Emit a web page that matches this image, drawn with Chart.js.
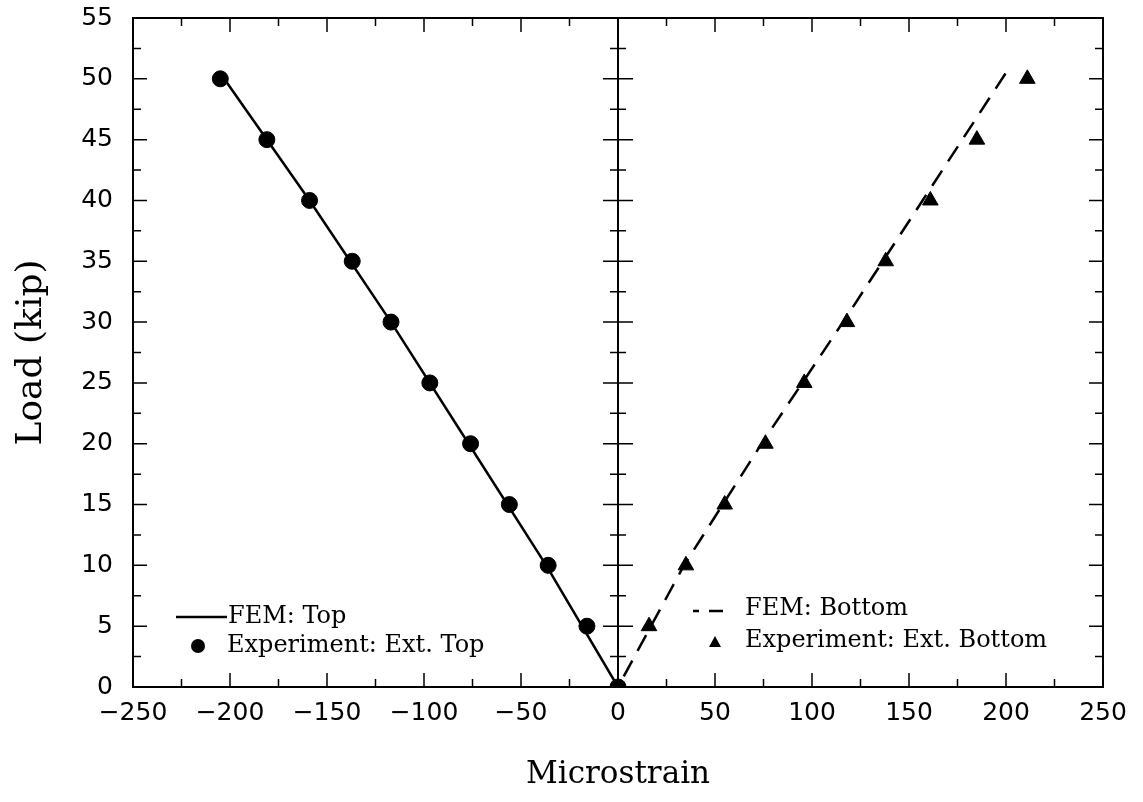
<!DOCTYPE html>
<html>
<head>
<meta charset="utf-8">
<script src="https://cdn.jsdelivr.net/npm/chart.js@4"></script>
<style>
  html, body { margin: 0; padding: 0; background: #fff; }
  #wrap { width: 1143px; height: 802px; }
</style>
</head>
<body>
<div id="wrap"><canvas id="chart" width="1143" height="802"></canvas></div>
<script>
// Données
const loadLevels = [0, 5, 10, 15, 20, 25, 30, 35, 40, 45, 50];
const expTopStrain = [0, -16, -36, -56, -76, -97, -117, -137, -159, -181, -205];
const expBottomStrain = [0, 16, 35, 55, 76, 96, 118, 138, 161, 185, 211];

const femTopStrain = [0, -37, -77, -117, -159, -203];
const femTopLoad = [0, 10, 20, 30, 40, 50];
const femBottomStrain = [0, 34, 74, 116, 157, 200];
const femBottomLoad = [0, 10, 20, 30, 40, 50.5];

const xTicks = [-250, -200, -150, -100, -50, 0, 50, 100, 150, 200, 250];
const yTicks = [0, 5, 10, 15, 20, 25, 30, 35, 40, 45, 50, 55];

const serif = "'DejaVu Serif', 'Liberation Serif', serif";
const sans = "'DejaVu Sans', 'Liberation Sans', sans-serif";

function pairs(xs, ys) {
    return xs.map((x, i) => ({ x: x, y: ys[i] }));
}

/**
 * Cadre, graduations intérieures, axe du zéro et légendes
 */
const framePlugin = {
    id: 'frame',
    afterDatasetsDraw(chart) {
        const ctx = chart.ctx;
        const a = chart.chartArea;
        const xs = chart.scales.x;
        const ys = chart.scales.y;
        ctx.save();
        ctx.strokeStyle = '#000';
        ctx.lineWidth = 2;
        ctx.setLineDash([]);
        ctx.strokeRect(a.left, a.top, a.right - a.left, a.bottom - a.top);

        ctx.lineWidth = 1.5;
        // graduations x
        for (let v = -250; v <= 250; v += 25) {
            const px = xs.getPixelForValue(v);
            const len = v % 50 === 0 ? 14 : 8;
            ctx.beginPath();
            ctx.moveTo(px, a.bottom); ctx.lineTo(px, a.bottom - len);
            ctx.moveTo(px, a.top); ctx.lineTo(px, a.top + len);
            ctx.stroke();
        }
        // graduations y
        const x0 = xs.getPixelForValue(0);
        for (let v = 0; v <= 55; v += 2.5) {
            const py = ys.getPixelForValue(v);
            const major = v % 5 === 0;
            const len = major ? 14 : 8;
            ctx.beginPath();
            ctx.moveTo(a.left, py); ctx.lineTo(a.left + len, py);
            ctx.moveTo(a.right, py); ctx.lineTo(a.right - len, py);
            ctx.moveTo(x0 - (major ? 15 : 8), py); ctx.lineTo(x0 + (major ? 15 : 8), py);
            ctx.stroke();
        }
        // axe vertical du zéro
        ctx.lineWidth = 2;
        ctx.beginPath();
        ctx.moveTo(x0, a.top); ctx.lineTo(x0, a.bottom);
        ctx.stroke();

        // légendes
        ctx.font = '24px ' + serif;
        ctx.fillStyle = '#000';
        ctx.textBaseline = 'middle';
        ctx.textAlign = 'left';

        ctx.lineWidth = 2.5;
        ctx.beginPath();
        ctx.moveTo(176, 617); ctx.lineTo(227, 617);
        ctx.stroke();
        ctx.fillText('FEM: Top', 228, 617);
        ctx.beginPath();
        ctx.arc(198, 646, 7, 0, Math.PI * 2);
        ctx.fill();
        ctx.fillText('Experiment: Ext. Top', 227, 646);

        ctx.setLineDash([6, 10, 14, 100]);
        ctx.beginPath();
        ctx.moveTo(693, 611); ctx.lineTo(731, 611);
        ctx.stroke();
        ctx.setLineDash([]);
        ctx.fillText('FEM: Bottom', 745, 609);
        ctx.beginPath();
        ctx.moveTo(715, 636); ctx.lineTo(721, 647); ctx.lineTo(709, 647);
        ctx.closePath();
        ctx.fill();
        ctx.fillText('Experiment: Ext. Bottom', 745, 641);
        ctx.restore();
    }
};

const ctx = document.getElementById('chart').getContext('2d');
new Chart(ctx, {
    type: 'scatter',
    data: {
        datasets: [
            {
                label: 'FEM: Top',
                data: pairs(femTopStrain, femTopLoad),
                showLine: true,
                borderColor: '#000',
                borderWidth: 2.5,
                pointRadius: 0,
                tension: 0
            },
            {
                label: 'FEM: Bottom',
                data: pairs(femBottomStrain, femBottomLoad),
                showLine: true,
                borderColor: '#000',
                borderWidth: 2.5,
                borderDash: [18, 11],
                borderDashOffset: -12,
                pointRadius: 0,
                tension: 0
            },
            {
                label: 'Experiment: Ext. Top',
                data: pairs(expTopStrain, loadLevels),
                backgroundColor: '#000',
                borderColor: '#000',
                pointStyle: 'circle',
                pointRadius: 8
            },
            {
                label: 'Experiment: Ext. Bottom',
                data: pairs(expBottomStrain, loadLevels).slice(1),
                backgroundColor: '#000',
                borderColor: '#000',
                pointStyle: 'triangle',
                pointRadius: 9
            }
        ]
    },
    options: {
        responsive: false,
        animation: false,
        layout: { padding: { top: 18, right: 40, left: 0, bottom: 0 } },
        plugins: {
            legend: { display: false },
            tooltip: { enabled: false }
        },
        scales: {
            x: {
                type: 'linear',
                min: -250,
                max: 250,
                afterBuildTicks: (s) => { s.ticks = xTicks.map(v => ({ value: v })); },
                afterFit: (s) => { s.height = 115; s.paddingLeft = 0; s.paddingRight = 0; },
                grid: { display: false, drawTicks: false },
                border: { display: false },
                ticks: {
                    color: '#000',
                    padding: 11,
                    font: { family: sans, size: 25 },
                    callback: (v) => v < 0 ? '\u2212' + Math.abs(v) : String(v)
                },
                title: {
                    display: true,
                    text: 'Microstrain',
                    color: '#000',
                    font: { family: serif, size: 31 },
                    padding: { top: 30, bottom: 8 }
                }
            },
            y: {
                type: 'linear',
                min: 0,
                max: 55,
                afterBuildTicks: (s) => { s.ticks = yTicks.map(v => ({ value: v })); },
                afterFit: (s) => { s.width = 133; s.paddingTop = 0; s.paddingBottom = 0; },
                grid: { display: false, drawTicks: false },
                border: { display: false },
                ticks: {
                    color: '#000',
                    padding: 20,
                    font: { family: sans, size: 25 }
                },
                title: {
                    display: true,
                    text: 'Load (kip)',
                    color: '#000',
                    font: { family: serif, size: 36 },
                    padding: { top: 10, bottom: 6 }
                }
            }
        }
    },
    plugins: [framePlugin]
});
</script>
</body>
</html>
